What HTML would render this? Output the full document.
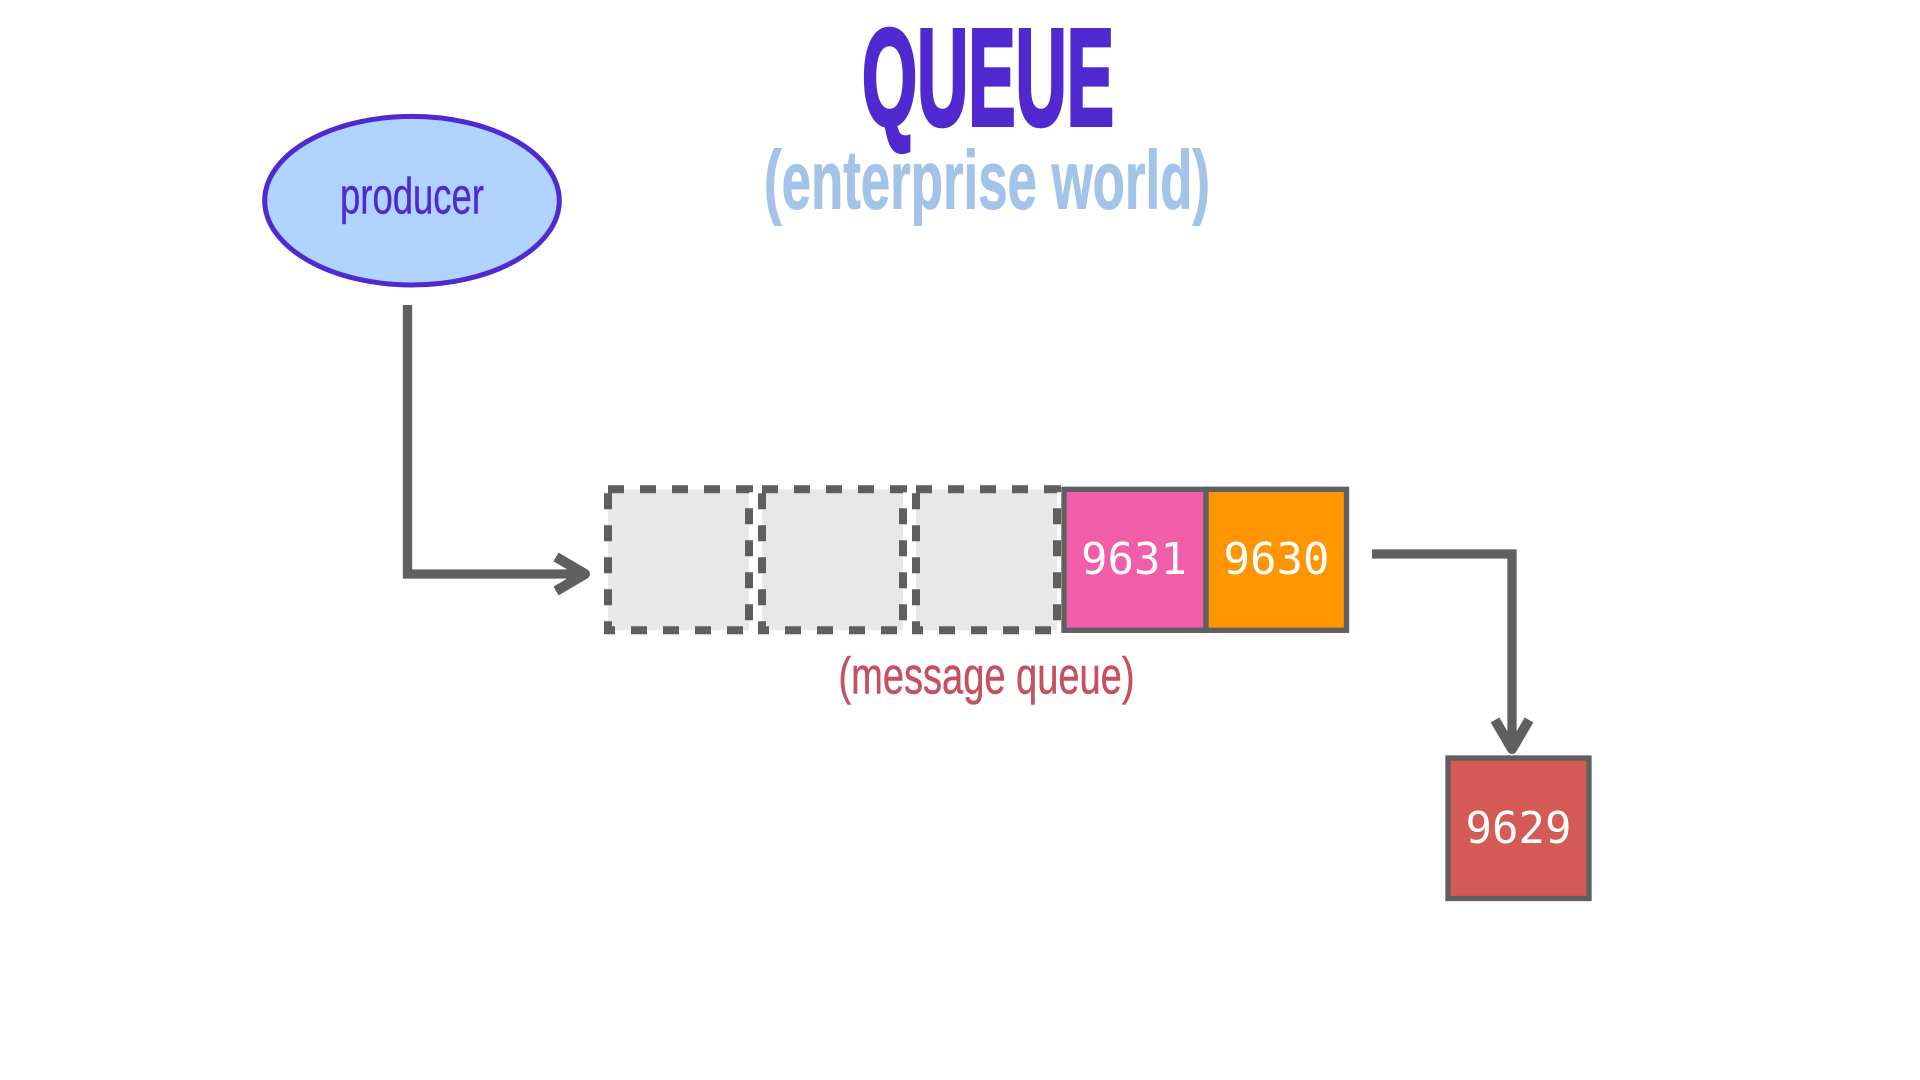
<!DOCTYPE html>
<html><head><meta charset="utf-8"><style>
html,body{margin:0;padding:0;background:#fff;width:1920px;height:1080px;overflow:hidden}
svg{display:block}
.n{font-family:"Liberation Sans Narrow","Liberation Sans",sans-serif}
.m{font-family:"DejaVu Sans Mono","Liberation Mono",monospace;font-size:44px;fill:#fff;text-anchor:middle}
</style></head><body>
<svg width="1920" height="1080" viewBox="0 0 1920 1080" xmlns="http://www.w3.org/2000/svg">
<rect width="1920" height="1080" fill="#fff"/>
<text class="n" x="862" y="125" font-size="138" font-weight="700" fill="#5029d0" stroke="#5029d0" stroke-width="4" textLength="252" lengthAdjust="spacingAndGlyphs">QUEUE</text>
<text class="n" x="764" y="208.5" font-size="83" font-weight="700" fill="#a3c4e8" stroke="#a3c4e8" stroke-width="1" textLength="446" lengthAdjust="spacingAndGlyphs">(enterprise world)</text>
<ellipse cx="412" cy="200.7" rx="147.3" ry="84.3" fill="#b0d4ff" stroke="#5029d0" stroke-width="5"/>
<text class="n" x="340" y="213.5" font-size="51" fill="#5029d0" stroke="#5029d0" stroke-width="0.4" textLength="144" lengthAdjust="spacingAndGlyphs">producer</text>
<path d="M407.5 305V574H585" fill="none" stroke="#5f5f5f" stroke-width="9.3"/>
<path d="M556 557L585 574L556 591" fill="none" stroke="#5f5f5f" stroke-width="10" stroke-linejoin="round"/>
<g fill="#e8e8e8" stroke="#5f5f5f" stroke-width="8" stroke-dasharray="16 16">
<rect x="608" y="489.3" width="141" height="141"/>
<rect x="762" y="489.3" width="141" height="141"/>
<rect x="916" y="489.3" width="141" height="141"/>
</g>
<rect x="1064" y="489.3" width="142" height="141" fill="#f15da8" stroke="#5f5f5f" stroke-width="5.3"/>
<rect x="1206" y="489.3" width="140.5" height="141" fill="#ff9500" stroke="#5f5f5f" stroke-width="5.3"/>
<text class="m" x="1134" y="574">9631</text>
<text class="m" x="1276.5" y="574">9630</text>
<text class="n" x="838.5" y="693.5" font-size="52" fill="#c5505f" stroke="#c5505f" stroke-width="0.5" textLength="296" lengthAdjust="spacingAndGlyphs">(message queue)</text>
<path d="M1372 554H1512V750" fill="none" stroke="#5f5f5f" stroke-width="9.3"/>
<path d="M1495 720L1512 749L1529 720" fill="none" stroke="#5f5f5f" stroke-width="10" stroke-linejoin="round"/>
<rect x="1448" y="758" width="141" height="140.5" fill="#d45b55" stroke="#5f5f5f" stroke-width="5.3"/>
<text class="m" x="1518.5" y="843">9629</text>
</svg>
</body></html>
